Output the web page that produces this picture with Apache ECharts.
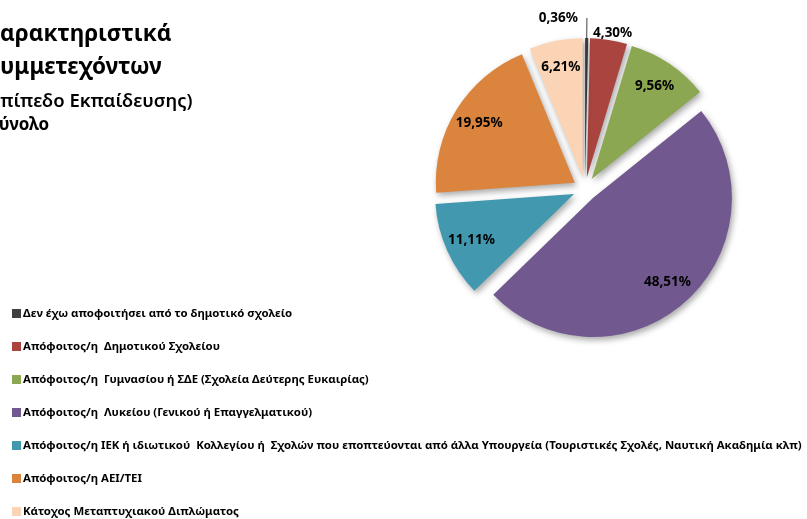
<!DOCTYPE html>
<html>
<head>
<meta charset="utf-8">
<script src="https://cdn.jsdelivr.net/npm/echarts@6/dist/echarts.min.js"></script>
<style>
  html, body { margin: 0; padding: 0; background: #fff; }
  #chart { width: 807px; height: 519px; }
</style>
</head>
<body>
<div id="chart"></div>
<script>
// Επίπεδο εκπαίδευσης - σύνολο
const titleLines = ['Χαρακτηριστικά', 'Συμμετεχόντων', '(Επίπεδο Εκπαίδευσης)', 'Σύνολο']
const categories = [
  'Δεν έχω αποφοιτήσει από το δημοτικό σχολείο',
  'Απόφοιτος/η  Δημοτικού Σχολείου',
  'Απόφοιτος/η  Γυμνασίου ή ΣΔΕ (Σχολεία Δεύτερης Ευκαιρίας)',
  'Απόφοιτος/η  Λυκείου (Γενικού ή Επαγγελματικού)',
  'Απόφοιτος/η ΙΕΚ ή ιδιωτικού  Κολλεγίου ή  Σχολών που εποπτεύονται από άλλα Υπουργεία (Τουριστικές Σχολές, Ναυτική Ακαδημία κλπ)',
  'Απόφοιτος/η ΑΕΙ/ΤΕΙ',
  'Κάτοχος Μεταπτυχιακού Διπλώματος'
]
const percents = [0.36, 4.30, 9.56, 48.51, 11.11, 19.95, 6.21]
const colors = ['#404040', '#A9443F', '#8CA752', '#71588F', '#4198AF', '#DB843D', '#FAD4B4']
const outsideLabels = [true, true, false, false, false, false, false]

const CX = 585, CY = 189  // κέντρο πίτας (px)

const chart = echarts.init(document.getElementById('chart'))

// ο τίτλος είναι κομμένος στα αριστερά όπως στο πρωτότυπο
const titleStyle = [
  { left: -15, top: 20, fontSize: 22.5, fontWeight: 'bold', lineHeight: 30 },
  { left: -13, top: 53, fontSize: 22.5, fontWeight: 'bold', lineHeight: 30 },
  { left: -16, top: 90, fontSize: 18.5, fontWeight: 600, lineHeight: 24 },
  { left: -11, top: 113, fontSize: 17, fontWeight: 'bold', lineHeight: 24 }
]

chart.setOption({
  animation: false,
  color: colors,
  title: titleLines.map((t, i) => ({
    text: t,
    left: titleStyle[i].left,
    top: titleStyle[i].top,
    padding: 0,
    textStyle: {
      fontFamily: 'Noto Sans',
      fontSize: titleStyle[i].fontSize,
      fontWeight: titleStyle[i].fontWeight,
      lineHeight: titleStyle[i].lineHeight,
      color: '#000'
    }
  })),
  legend: {
    orient: 'vertical',
    left: 7,
    top: 302,
    height: 240,
    itemWidth: 9,
    itemHeight: 9,
    itemGap: 20,
    icon: 'rect',
    selectedMode: false,
    textStyle: { fontFamily: 'Noto Sans', fontSize: 11.4, fontWeight: 'bold', color: '#000', lineHeight: 13, padding: [0, 0, 0, -3] },
    data: categories
  },
  series: [
    {
      type: 'pie',
      center: [CX, CY],
      radius: 139,
      startAngle: 90,
      clockwise: true,
      selectedMode: 'multiple',
      selectedOffset: 12,
      avoidLabelOverlap: false,
      itemStyle: {
        shadowBlur: 6,
        shadowOffsetX: 2,
        shadowOffsetY: 3,
        shadowColor: 'rgba(0,0,0,0.35)'
      },
      select: { itemStyle: { borderWidth: 0 } },
      emphasis: { disabled: true },
      label: {
        fontFamily: 'Noto Sans',
        fontSize: 13.5,
        fontWeight: 'bold',
        color: '#000',
        formatter: p => p.value.toFixed(2).replace('.', ',') + '%'
      },
      labelLayout: function (p) {
        const r = p.labelRect
        if (p.dataIndex === 0) return { dx: -(r.width + 12) }
        if (p.dataIndex === 1) return { dx: -r.width / 2, dy: -1 }
        const lx = r.x + r.width / 2, ly = r.y + r.height / 2
        return { dx: (lx - CX) * 0.55, dy: (ly - CY) * 0.55 }
      },
      data: categories.map((name, i) => ({
        name: name,
        value: percents[i],
        selected: true,
        label: outsideLabels[i]
          ? { position: 'outside', distanceToLabelLine: 3 }
          : { position: 'inside' },
        labelLine: i === 0
          ? { show: true, length: 20, length2: 0, lineStyle: { color: '#404040', width: 1 } }
          : { show: false, length: 6, length2: 0 }
      }))
    }
  ]
})
</script>
</body>
</html>
